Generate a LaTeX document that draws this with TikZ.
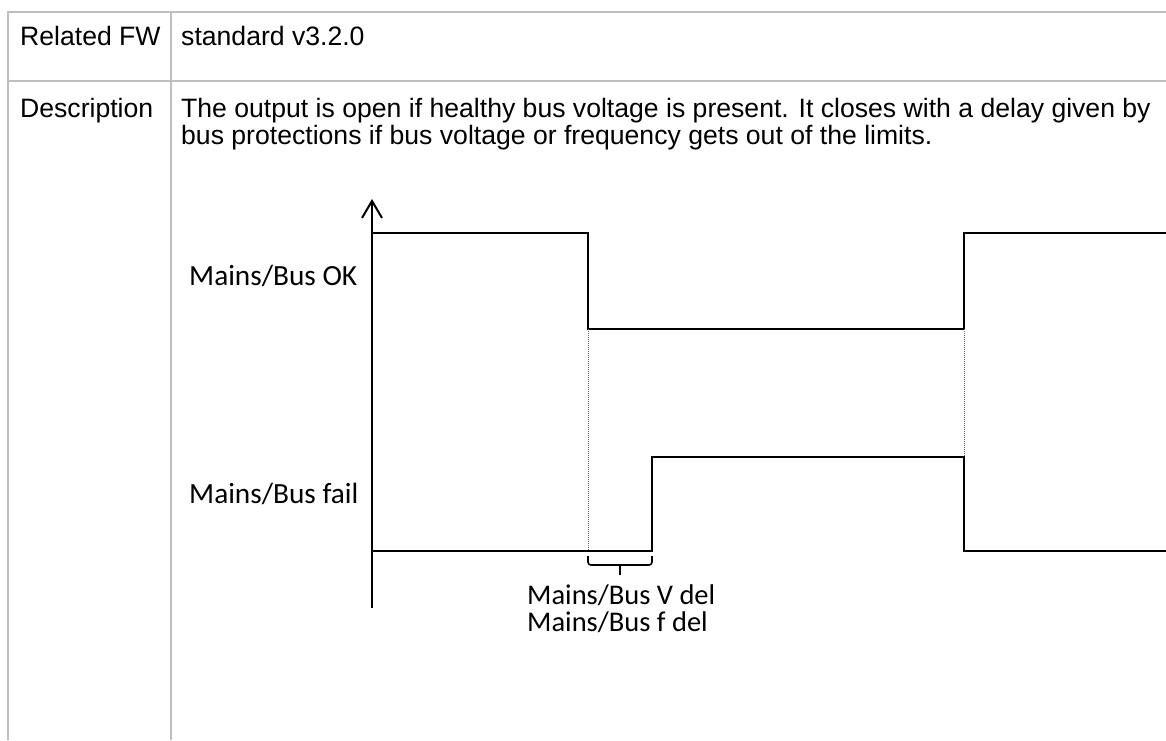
\documentclass[tikz,border=0pt]{standalone}
\usepackage{fontspec}
\setmainfont{Liberation Sans}
\newfontfamily\labelfont{Carlito}
\usepackage{tikz}
\usetikzlibrary{arrows.meta}

\begin{document}
\begin{tikzpicture}[x=1pt, y=-1pt,
	tableline/.style={line width=2pt, draw=black!25},
	signal/.style={line width=2pt, line join=miter},
	helpline/.style={line width=1pt, densely dotted, draw=black!60},
	celltext/.style={anchor=base west, inner sep=0pt, font=\fontsize{26.6}{26.6}\selectfont},
	sigtext/.style={anchor=base west, inner sep=0pt, font=\labelfont\fontsize{29.3}{29.3}\selectfont},
	deltext/.style={anchor=base west, inner sep=0pt, font=\labelfont\fontsize{28.5}{28.5}\selectfont}]
			\useasboundingbox (0,0) rectangle (1166,740);
			% Tabelle
			\draw[tableline] (1166,12) -- (8,12) -- (8,740);
			\draw[tableline] (171,12) -- (171,740);
			\draw[tableline] (8,81) -- (1166,81);
			\node[celltext] (fwname) at (20,45) {Related FW};
			\node[celltext] (fwval) at (181,45) {standard v3.2.0};
			\node[celltext] (descname) at (20,117) {Description};
			\node[celltext] (descline1) at (181,117) {The output is open if healthy bus voltage is present. It closes with a delay given by};
			\node[celltext] (descline2) at (181,144) {bus protections if bus voltage or frequency gets out of the limits.};
			% Achse und Signale
			\draw[signal, -{Straight Barb[length=17pt, width=20pt]}] (372,608) -- (372,199);
			\draw[signal] (372,233) -- (588,233) -- (588,329) -- (964,329) -- (964,233) -- (1166,233);
			\draw[signal] (372,551) -- (652,551) -- (652,457) -- (964,457) -- (964,551) -- (1166,551);
			\draw[helpline] (588,329) -- (588,551);
			\draw[helpline] (964,329) -- (964,457);
			\node[sigtext] (oklabel) at (189,285) {Mains/Bus OK};
			\node[sigtext] (faillabel) at (189,503) {Mains/Bus fail};
			% Verzoegerung
			\draw[line width=1.6pt, rounded corners=3pt] (588,556) -- (588,565) -- (652,565) -- (652,556);
			\draw[line width=1.6pt] (620,565) -- (620,575);
			\node[deltext] (vdel) at (527,604) {Mains/Bus V del};
			\node[deltext] (fdel) at (527,631) {Mains/Bus f del};
		\end{tikzpicture}
\end{document}
